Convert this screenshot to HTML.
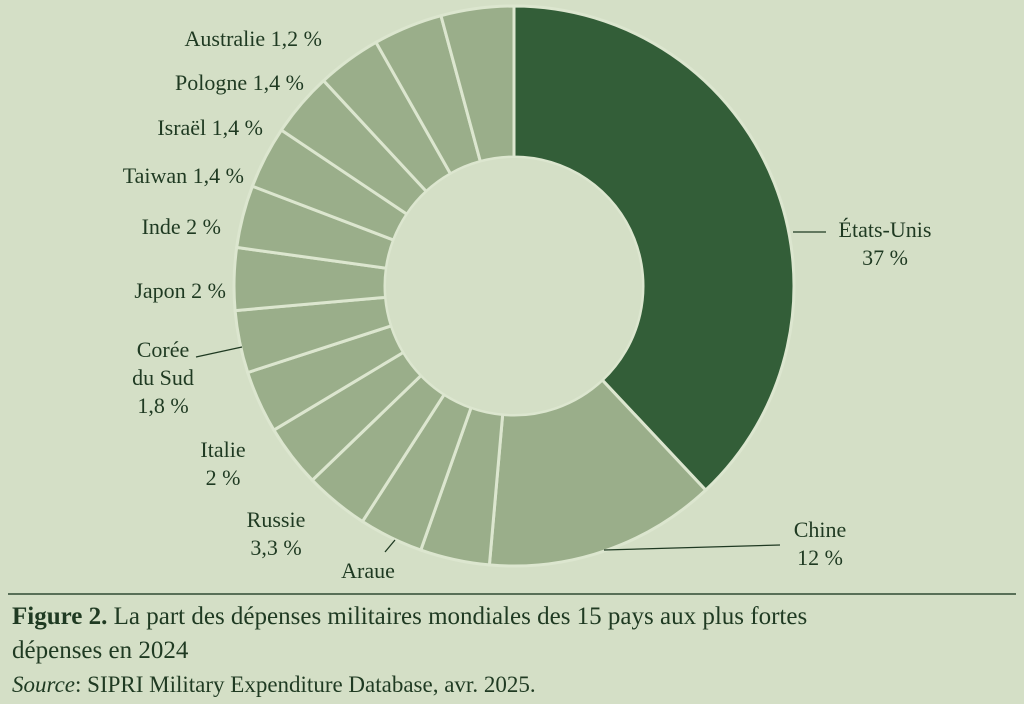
<!DOCTYPE html>
<html><head><meta charset="utf-8"><style>
body{margin:0;width:1024px;height:704px;overflow:hidden;background:#d4dfc6;font-family:"Liberation Serif",serif;color:#1f3a22}
svg{position:absolute;left:0;top:0}
.cap{position:absolute;left:12px;font-size:25px;white-space:nowrap}
</style></head><body>
<svg width="1024" height="704" id="chart"></svg>
<div class="cap" style="top:603px"><b>Figure 2.</b> La part des dépenses militaires mondiales des 15 pays aux plus fortes</div>
<div class="cap" style="top:637px">dépenses en 2024</div>
<div class="cap" style="top:672px;font-size:23px"><i>Source</i>: SIPRI Military Expenditure Database, avr. 2025.</div>
<script>
const categories=["États-Unis","Chine","Pays3","Arabie","Pays5","Russie","Italie","Pays8","Corée du Sud","Japon","Inde","Taiwan","Israël","Pologne","Australie"];
const values=[38,13.4,4.0,3.7,3.7,3.6,3.6,3.6,3.6,3.6,3.6,3.7,3.7,4.0,4.2];
const labelTexts=[["États-Unis","37 %"],["Chine","12 %"],["Araue"],["Russie","3,3 %"],["Italie","2 %"],["Corée","du Sud","1,8 %"],["Japon 2 %"],["Inde  2 %"],["Taiwan  1,4 %"],["Israël  1,4 %"],["Pologne  1,4 %"],["Australie  1,2 %"]];
const NS="http://www.w3.org/2000/svg",svg=document.getElementById('chart');
const cx=514,cy=286,R=280,r=129;
const total=values.reduce((a,b)=>a+b,0);
function pt(a,rad){return [cx+rad*Math.sin(a),cy-rad*Math.cos(a)];}
let acc=0;
values.forEach((v,i)=>{
 const a0=acc/total*2*Math.PI;acc+=v;const a1=acc/total*2*Math.PI;
 const [x0,y0]=pt(a0,R),[x1,y1]=pt(a1,R),[x2,y2]=pt(a1,r),[x3,y3]=pt(a0,r);
 const lg=(a1-a0)>Math.PI?1:0;
 const p=document.createElementNS(NS,'path');
 p.setAttribute('d',`M${x0},${y0}A${R},${R} 0 ${lg} 1 ${x1},${y1}L${x2},${y2}A${r},${r} 0 ${lg} 0 ${x3},${y3}Z`);
 p.setAttribute('fill',i==0?'#335e38':'#9aae8a');
 p.setAttribute('stroke','#dce6cf');p.setAttribute('stroke-width','3');
 
 
 svg.appendChild(p);
});
const c=document.createElementNS(NS,'circle');c.setAttribute('cx',cx);c.setAttribute('cy',cy);c.setAttribute('r',r-1);c.setAttribute('fill','#d4dfc6');


svg.appendChild(c);
const pos=[[885,237,'middle'],[820,537,'middle'],[368,578,'middle'],[276,527,'middle'],[223,457,'middle'],[163,357,'middle'],[226,298,'end'],[221,234,'end'],[244,183,'end'],[263,135,'end'],[304,90,'end'],[322,46,'end']];
labelTexts.forEach((lines,i)=>{
 const t=document.createElementNS(NS,'text');
 t.setAttribute('x',pos[i][0]);t.setAttribute('y',pos[i][1]);t.setAttribute('text-anchor',pos[i][2]);
 t.setAttribute('font-size','22');t.setAttribute('fill','#1f3a22');
 
 
 lines.forEach((s,j)=>{const ts=document.createElementNS(NS,'tspan');ts.setAttribute('x',pos[i][0]);ts.setAttribute('dy',j?'28':'0');ts.textContent=s;t.appendChild(ts);});
 svg.appendChild(t);
});
[[793,232,826,232],[604,550,780,545],[385,552,395,540],[196,357,242,347]].forEach(l=>{
 const ln=document.createElementNS(NS,'line');
 ln.setAttribute('x1',l[0]);ln.setAttribute('y1',l[1]);ln.setAttribute('x2',l[2]);ln.setAttribute('y2',l[3]);
 ln.setAttribute('stroke','#1f3a22');ln.setAttribute('stroke-width','1.3');
 
 
 svg.appendChild(ln);
});
const hr=document.createElementNS(NS,'line');
hr.setAttribute('x1',8);hr.setAttribute('y1',594);hr.setAttribute('x2',1016);hr.setAttribute('y2',594);
hr.setAttribute('stroke','#2f4a32');hr.setAttribute('stroke-width','1.5');


svg.appendChild(hr);
</script>
</body></html>
